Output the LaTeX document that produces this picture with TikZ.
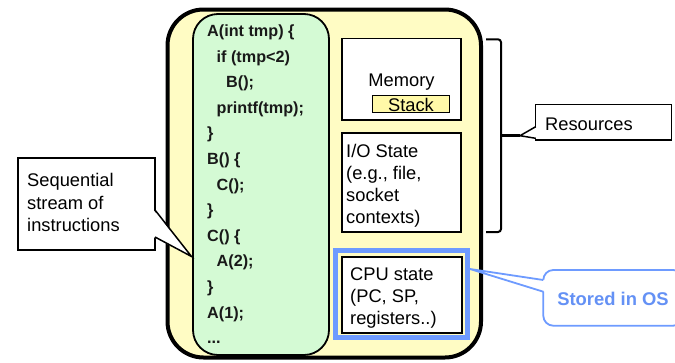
\documentclass[tikz,border=0pt]{standalone}
\usepackage{fontspec}
\setmainfont{Liberation Sans}
\definecolor{outerfill}{RGB}{255,252,196}
\definecolor{greenfill}{RGB}{212,250,212}
\definecolor{stackfill}{RGB}{255,249,168}
\definecolor{osblue}{RGB}{110,155,255}
\definecolor{ostext}{RGB}{100,145,245}
\tikzset{
  px/.style={x=1pt,y=-1pt},
  rbox/.style={draw=black,line width=1.6pt,fill=white,inner sep=0pt,rectangle},
  bodytext/.style={font=\fontsize{18.3}{22}\selectfont,inner sep=0pt,anchor=base west},
  codetext/.style={font=\fontsize{16.2}{20}\selectfont\bfseries,inner sep=0pt,anchor=base west,text=black!90},
  pointerfill/.style={fill=white,draw=none},
}
\begin{document}
\begin{tikzpicture}[px]
\useasboundingbox (0,0) rectangle (675,362);
\clip (0,0) rectangle (675,362);
% outer process box
\node[draw=black,line width=4pt,fill=outerfill,rounded corners=36pt,inner sep=0pt,
  minimum width=313.5pt,minimum height=348pt] (outer) at (324.25,183.5) {};
% code column
\node[draw=black,line width=1.8pt,fill=greenfill,rounded corners=25pt,inner sep=0pt,
  minimum width=136pt,minimum height=341pt] (code) at (261,184.5) {};
\node[codetext] (c1) at (207,36.5) {A(int tmp) \{};
\node[codetext] (c2) at (216.5,62.1) {if (tmp<2)};
\node[codetext] (c3) at (226,87.7) {B();};
\node[codetext] (c4) at (216.5,113.3) {printf(tmp);};
\node[codetext] (c5) at (207,138.9) {\}};
\node[codetext] (c6) at (207,164.5) {B() \{};
\node[codetext] (c7) at (216.5,190.1) {C();};
\node[codetext] (c8) at (207,215.7) {\}};
\node[codetext] (c9) at (207,241.3) {C() \{};
\node[codetext] (c10) at (216.5,266.9) {A(2);};
\node[codetext] (c11) at (207,292.5) {\}};
\node[codetext] (c12) at (207,318.1) {A(1);};
\node[codetext] (c13) at (207,343.7) {...};
% memory
\node[rbox,minimum width=119pt,minimum height=81.5pt] (mem) at (401.3,79.25) {};
\node[bodytext,anchor=base] (memtxt) at (401.5,86.7) {Memory};
\node[rbox,fill=stackfill,line width=1.5pt,minimum width=76.6pt,minimum height=17pt] (stack) at (411,104.2) {};
\node[bodytext,anchor=base] (stacktxt) at (411,111) {Stack};
% I/O
\node[rbox,minimum width=119pt,minimum height=99pt] (io) at (401.3,182.5) {};
\node[bodytext] (io1) at (346,157.3) {I/O State};
\node[bodytext] (io2) at (346,179.5) {(e.g., file,};
\node[bodytext] (io3) at (346,201.5) {socket};
\node[bodytext] (io4) at (346,223.3) {contexts)};
% CPU
\node[draw=osblue,line width=5pt,inner sep=0pt,minimum width=132pt,minimum height=86.5pt] (cpublue) at (401.5,293.75) {};
\node[rbox,line width=2pt,minimum width=120pt,minimum height=76pt] (cpu) at (401.7,294.7) {};
\node[bodytext] (cpu1) at (350,280) {CPU state};
\node[bodytext] (cpu2) at (350,302.3) {(PC, SP,};
\node[bodytext] (cpu3) at (350,324.3) {registers..)};
% brace
\coordinate (bt) at (486,39.3);
\coordinate (bb) at (486,232);
\coordinate (bm) at (501,135.7);
\draw[line width=2pt,rounded corners=3pt] (bt) -- (501,39.3) -- (501,232) -- (bb);
% Resources callout
\node[rbox,line width=1.5pt,minimum width=136pt,minimum height=35.7pt] (res) at (603.7,122.15) {};
\node[bodytext] (restxt) at (545,130.5) {Resources};
\coordinate (r1) at (535.7,126.7);
\coordinate (r2) at (535.7,138.3);
\coordinate (rtip) at (520,135.7);
\fill[pointerfill] ([xshift=1.5pt]r1) -- (rtip) -- ([xshift=1.5pt]r2) -- cycle;
\draw[line width=1.5pt,line join=miter] (r1) -- (rtip) -- (r2);
\draw[line width=3pt] (bm) -- (rtip);
% Sequential callout
\node[rbox,line width=1.5pt,minimum width=137pt,minimum height=92pt] (seq) at (86.5,204) {};
\node[bodytext] (s1) at (27,186.5) {Sequential};
\node[bodytext] (s2) at (27,209) {stream of};
\node[bodytext] (s3) at (27,231.5) {instructions};
\coordinate (q1) at (155,210);
\coordinate (q2) at (155,237);
\coordinate (qtip) at (191.5,256.5);
\fill[pointerfill] ([xshift=-1.5pt]q1) -- (qtip) -- ([xshift=-1.5pt]q2) -- cycle;
\draw[line width=1.5pt,line join=miter] (q1) -- (qtip) -- (q2);
% Stored in OS callout
\node[draw=osblue,line width=1.8pt,fill=white,rounded corners=10pt,inner sep=0pt,
  minimum width=140pt,minimum height=55.7pt] (os) at (613.3,297.85) {};
\node[bodytext,font=\fontsize{18.4}{22}\selectfont\bfseries,text=ostext,anchor=base] (ostxt) at (613,305) {Stored in OS};
\coordinate (o1) at (543.3,280);
\coordinate (o2) at (543.3,291.7);
\coordinate (otip) at (470,269);
\fill[pointerfill] ([xshift=1.5pt]o1) -- (otip) -- ([xshift=1.5pt]o2) -- cycle;
\draw[draw=osblue,line width=1.8pt] (o1) -- (otip) -- (o2);
\end{tikzpicture}
\end{document}
